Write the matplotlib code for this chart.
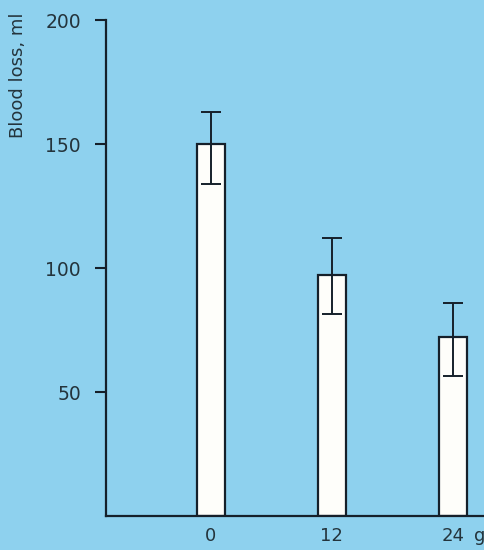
import numpy as np
import matplotlib.pyplot as plt

# dose (g) vs blood loss (ml)
doses = [0, 12, 24]
dose_labels = ["0", "12", "24"]
blood_loss = [150, 97, 72]
err_lower = [16, 15.5, 15.5]
err_upper = [13, 15, 14]
y_ticks = [50, 100, 150, 200]

bg = "#8ed1ee"
ink = "#15202a"
text_col = "#24343c"


def main():
    fig = plt.figure(figsize=(4.85, 5.5), dpi=100, facecolor=bg)
    ax = fig.add_axes([106 / 485, 1 - 516 / 550, 1 - 106 / 485, (516 - 20) / 550])
    ax.set_facecolor(bg)

    ax.bar(doses, blood_loss, width=2.78, color="#fefefa", edgecolor=ink,
           linewidth=1.6, zorder=2)
    ax.errorbar(doses, blood_loss, yerr=[err_lower, err_upper], fmt="none",
                ecolor=ink, elinewidth=1.4, capsize=7, capthick=1.4, zorder=3)

    ax.set_xlim(-10.4, 27.2)
    ax.set_ylim(0, 200)

    for side in ["top", "right"]:
        ax.spines[side].set_visible(False)
    for side in ["left", "bottom"]:
        ax.spines[side].set_color(ink)
        ax.spines[side].set_linewidth(1.6)

    ax.set_yticks(y_ticks)
    ax.set_yticklabels([str(t) for t in y_ticks])
    ax.tick_params(axis="y", direction="out", length=8, width=1.5, color=ink,
                   pad=10, labelsize=13.5, labelcolor=text_col)
    ax.set_xticks(doses)
    ax.set_xticklabels(dose_labels)
    ax.tick_params(axis="x", length=0, pad=8, labelsize=13, labelcolor=text_col)

    # unit after the last dose label
    ax.annotate("g", xy=(doses[-1], 0), xycoords="data", xytext=(15, -8),
                textcoords="offset points", ha="left", va="top",
                fontsize=13, color=text_col)

    fig.text(18 / 485, 1 - 13 / 550, "Blood loss, ml", rotation=90,
             ha="center", va="top", fontsize=13, color=text_col)

    fig.savefig("out.png", dpi=100, facecolor=bg)


if __name__ == "__main__":
    main()
